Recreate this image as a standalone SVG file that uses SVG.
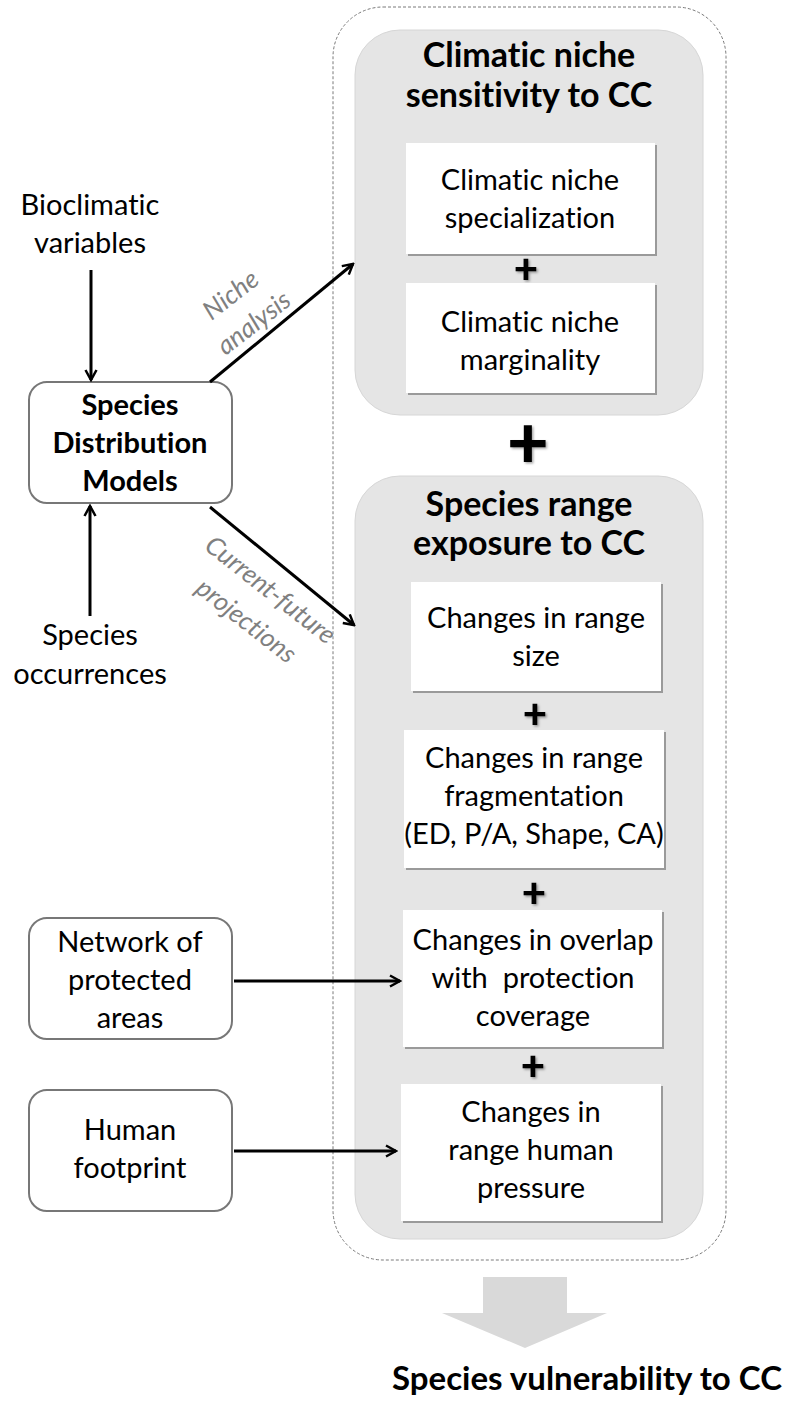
<svg xmlns="http://www.w3.org/2000/svg" width="787" height="1405" viewBox="0 0 787 1405">
<defs>
<style>
text{font-variant-ligatures:none}
.t{font-family:Lato,"Liberation Sans",sans-serif;font-size:29px;fill:#000;text-anchor:middle}
.b{font-weight:bold}
.title{font-family:Lato,"Liberation Sans",sans-serif;font-size:34px;font-weight:bold;text-anchor:middle;fill:#000}
.final{font-family:Lato,"Liberation Sans",sans-serif;font-size:33px;font-weight:bold;text-anchor:end;fill:#000}
.lab{font-family:Lato,"Liberation Sans",sans-serif;font-size:26px;font-style:italic;fill:#808080;text-anchor:middle;dominant-baseline:central}
.node{fill:#fff;stroke:#777;stroke-width:2}
.grp{fill:#e5e5e5;stroke:#d6d6d6;stroke-width:1}
.wb{fill:#fff}
.sh{fill:#9a9a9a}
.plus{font-family:Lato,"Liberation Sans",sans-serif;font-weight:900;text-anchor:middle;fill:#000}
.conn{stroke:#000;stroke-width:3;fill:none}
</style>
<marker id="ah" viewBox="0 0 14 14" refX="12" refY="7" markerWidth="14" markerHeight="14" markerUnits="userSpaceOnUse" orient="auto">
<path d="M2,1.5 L12,7 L2,12.5" fill="none" stroke="#000" stroke-width="2.5"/>
</marker>
<filter id="ds" x="-20%" y="-20%" width="150%" height="150%">
<feDropShadow dx="1.5" dy="1.5" stdDeviation="0.8" flood-color="#000" flood-opacity="0.35"/>
</filter>
</defs>

<g id="outer">
<rect x="333" y="7" width="393" height="1253" rx="50" fill="none" stroke="#7a7a7a" stroke-width="1" stroke-dasharray="3,2"/>
</g>

<g id="sensitivity">
<rect class="grp" x="355" y="30" width="348" height="385" rx="45"/>
<text class="title" x="529" y="67">Climatic niche</text>
<text class="title" x="529" y="107">sensitivity to CC</text>
</g>

<g id="specialization">
<rect class="sh" x="408" y="145" width="249" height="111"/>
<rect class="wb" x="406" y="143" width="249" height="111"/>
<text class="t" x="530" y="190">Climatic niche</text>
<text class="t" x="530" y="228">specialization</text>
</g>
<text class="plus" x="526" y="283" font-size="42" filter="url(#ds)">+</text>

<g id="marginality">
<rect class="sh" x="408" y="285" width="249" height="110"/>
<rect class="wb" x="406" y="283" width="249" height="110"/>
<text class="t" x="530" y="332">Climatic niche</text>
<text class="t" x="530" y="370">marginality</text>
</g>

<text class="plus" x="528" y="468" font-size="72" filter="url(#ds)">+</text>

<g id="exposure">
<rect class="grp" x="355" y="476" width="348" height="763" rx="45"/>
<text class="title" x="529" y="516">Species range</text>
<text class="title" x="529" y="555">exposure to CC</text>
</g>

<g id="rangesize">
<rect class="sh" x="413" y="584" width="250" height="109"/>
<rect class="wb" x="411" y="582" width="250" height="109"/>
<text class="t" x="536" y="628">Changes in range</text>
<text class="t" x="536" y="666">size</text>
</g>
<text class="plus" x="535" y="728" font-size="42" filter="url(#ds)">+</text>

<g id="fragmentation">
<rect class="sh" x="406" y="732" width="260" height="138"/>
<rect class="wb" x="404" y="730" width="260" height="138"/>
<text class="t" x="534" y="768">Changes in range</text>
<text class="t" x="534" y="806">fragmentation</text>
<text class="t" x="534" y="844">(ED, P/A, Shape, CA)</text>
</g>
<text class="plus" x="534" y="907" font-size="42" filter="url(#ds)">+</text>

<g id="overlap">
<rect class="sh" x="405" y="912" width="259" height="137"/>
<rect class="wb" x="403" y="910" width="259" height="137"/>
<text class="t" x="533" y="950">Changes in overlap</text>
<text class="t" x="533" y="988" xml:space="preserve">with  protection</text>
<text class="t" x="533" y="1026">coverage</text>
</g>
<text class="plus" x="533" y="1080" font-size="42" filter="url(#ds)">+</text>

<g id="humanpressure">
<rect class="sh" x="403" y="1086" width="260" height="137"/>
<rect class="wb" x="401" y="1084" width="260" height="137"/>
<text class="t" x="531" y="1122">Changes in</text>
<text class="t" x="531" y="1160">range human</text>
<text class="t" x="531" y="1198">pressure</text>
</g>

<g id="bioclimatic">
<text class="t" x="90" y="215">Bioclimatic</text>
<text class="t" x="90" y="253">variables</text>
</g>

<g id="sdm">
<rect class="node" x="29" y="382" width="203" height="121" rx="18"/>
<text class="t b" x="130" y="415">Species</text>
<text class="t b" x="130" y="453">Distribution</text>
<text class="t b" x="130" y="491">Models</text>
</g>

<g id="occurrences">
<text class="t" x="90" y="645">Species</text>
<text class="t" x="90" y="684">occurrences</text>
</g>

<g id="protected">
<rect class="node" x="29" y="918" width="203" height="121" rx="18"/>
<text class="t" x="130" y="952">Network of</text>
<text class="t" x="130" y="990">protected</text>
<text class="t" x="130" y="1028">areas</text>
</g>

<g id="footprint">
<rect class="node" x="29" y="1090" width="203" height="121" rx="18"/>
<text class="t" x="130" y="1140">Human</text>
<text class="t" x="130" y="1178">footprint</text>
</g>

<g id="connectors">
<line class="conn" x1="91" y1="270" x2="91" y2="380" marker-end="url(#ah)"/>
<line class="conn" x1="90" y1="616" x2="90" y2="506" marker-end="url(#ah)"/>
<line class="conn" x1="210" y1="382" x2="353" y2="264" marker-end="url(#ah)"/>
<line class="conn" x1="210" y1="507" x2="354" y2="625" marker-end="url(#ah)"/>
<line class="conn" x1="234" y1="981" x2="400" y2="981" marker-end="url(#ah)"/>
<line class="conn" x1="234" y1="1151" x2="396" y2="1151" marker-end="url(#ah)"/>
<text class="lab" transform="translate(230,294) rotate(-38)">Niche</text>
<text class="lab" transform="translate(253,322) rotate(-38)">analysis</text>
<text class="lab" transform="translate(271,589) rotate(38)">Current-future</text>
<text class="lab" transform="translate(247,620) rotate(38)">projections</text>
</g>

<g id="result">
<polygon points="483,1277 567,1277 567,1313 607,1313 525,1348 442,1313 483,1313" fill="#d9d9d9"/>
<text class="final" x="782" y="1390">Species vulnerability to CC</text>
</g>
</svg>
